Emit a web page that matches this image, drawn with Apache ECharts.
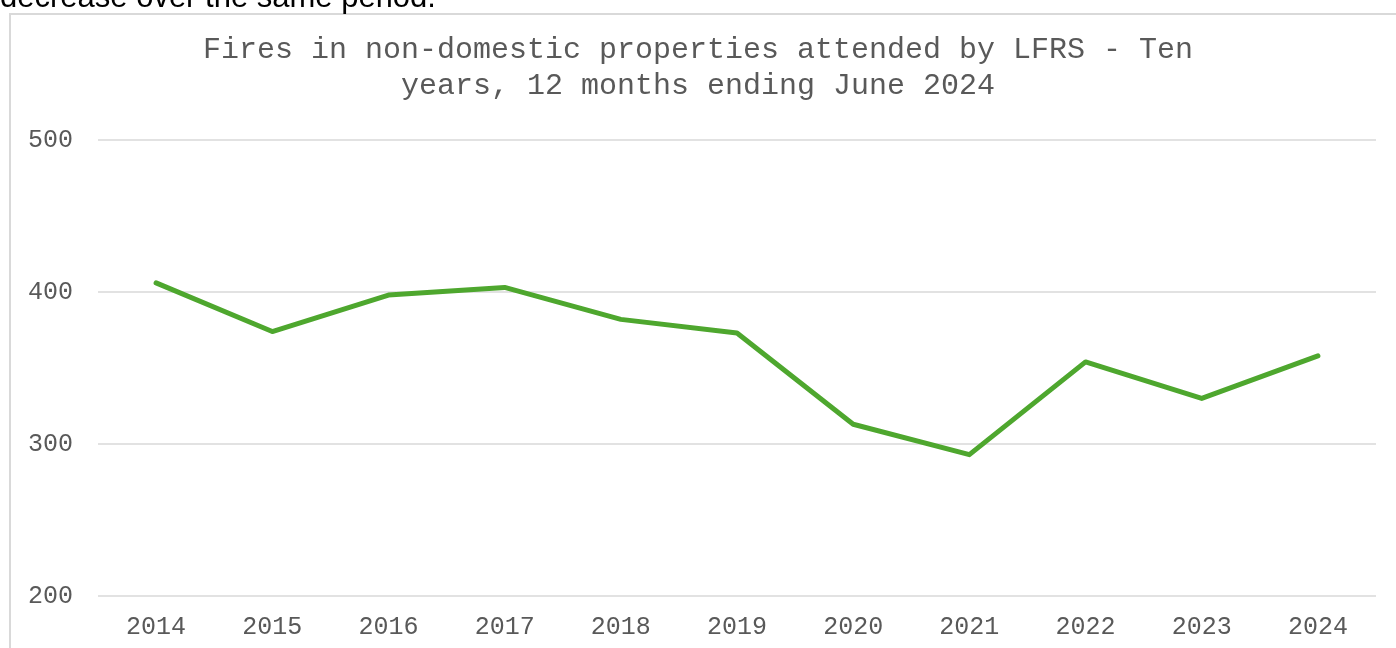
<!DOCTYPE html>
<html>
<head>
<meta charset="utf-8">
<script src="https://cdn.jsdelivr.net/npm/echarts@6/dist/echarts.min.js"></script>
<style>
html,body{margin:0;padding:0;background:#fff;}
#chart{width:1396px;height:648px;}
</style>
</head>
<body>
<div id="chart"></div>
<script>
const years = ['2014','2015','2016','2017','2018','2019','2020','2021','2022','2023','2024'];
const fires = [406, 374, 398, 403, 382, 373, 313, 293, 354, 330, 358];
const yTicks = {min: 200, max: 500, interval: 100};
const titleText = 'Fires in non-domestic properties attended by LFRS - Ten\nyears, 12 months ending June 2024';
const aboveText = 'decrease over the same period.';

const chart = echarts.init(document.getElementById('chart'));
chart.setOption({
  animation: false,
  backgroundColor: '#fff',
  title: {
    text: titleText,
    left: 'center',
    top: 27,
    textStyle: {
      fontFamily: 'Liberation Mono',
      fontWeight: 'normal',
      fontSize: 30,
      lineHeight: 36,
      color: '#595959'
    }
  },
  graphic: [
    {
      type: 'rect',
      shape: {x: 10, y: 14, width: 1400, height: 700},
      style: {fill: 'none', stroke: '#d9d9d9', lineWidth: 2},
      silent: true,
      z: -1
    },
    {
      type: 'text',
      x: 0, y: 14,
      style: {
        text: aboveText,
        font: '31px "Liberation Sans"',
        fill: '#000',
        textVerticalAlign: 'bottom'
      }
    }
  ],
  grid: {left: 98, right: 20, top: 140, bottom: 52, containLabel: false},
  xAxis: {
    type: 'category',
    data: years,
    boundaryGap: true,
    axisLine: {show: false},
    axisTick: {show: false},
    axisLabel: {
      fontFamily: 'Liberation Mono',
      fontSize: 25,
      color: '#595959',
      margin: 19
    }
  },
  yAxis: {
    type: 'value',
    min: yTicks.min,
    max: yTicks.max,
    interval: yTicks.interval,
    axisLine: {show: false},
    axisTick: {show: false},
    splitLine: {lineStyle: {color: '#d9d9d9', width: 1.5}},
    axisLabel: {
      fontFamily: 'Liberation Mono',
      fontSize: 25,
      color: '#595959',
      margin: 25
    }
  },
  series: [{
    type: 'line',
    data: fires,
    symbol: 'none',
    lineStyle: {color: '#4ea72e', width: 5, cap: 'round', join: 'round'}
  }]
});
</script>
</body>
</html>
